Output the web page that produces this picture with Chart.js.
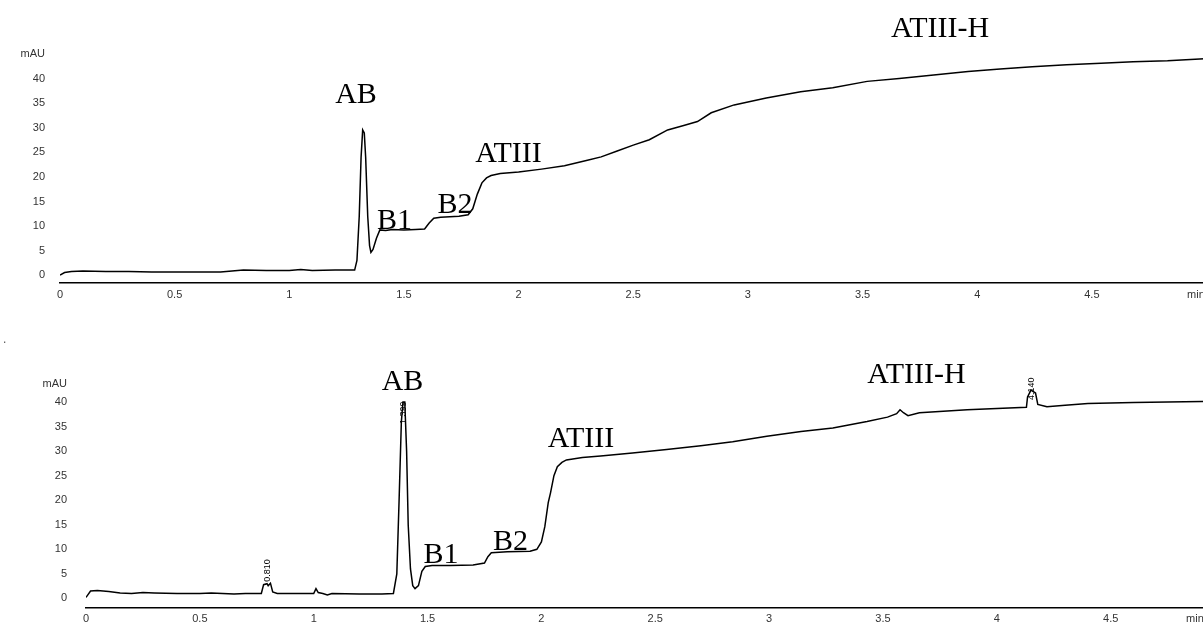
<!DOCTYPE html>
<html>
<head>
<meta charset="utf-8">
<script src="https://cdn.jsdelivr.net/npm/chart.js@4.4.1/dist/chart.umd.min.js"></script>
<style>
	html, body {
		margin: 0;
		padding: 0;
		background: #fff;
		overflow: hidden;
		width: 1203px;
		height: 628px;
	}
	canvas {
		position: absolute;
		left: 0;
	}
	#top-chart {
		top: 0;
	}
	#bottom-chart {
		top: 325px;
	}
	.dot {
		position: absolute;
		left: 3px;
		top: 332px;
		font: 12px "Liberation Sans", sans-serif;
		color: #555;
	}
</style>
</head>
<body>
<canvas id="top-chart" width="1240" height="310"></canvas>
<canvas id="bottom-chart" width="1240" height="308"></canvas>
<span class="dot">.</span>

<script>
// top run: time (min) and signal (mAU)
const topTime = [
	0.00, 0.02, 0.05, 0.10, 0.20, 0.30, 0.40, 0.50, 0.60, 0.70, 0.75, 0.80,
	0.90, 1.00, 1.05, 1.10, 1.20, 1.285, 1.295, 1.305, 1.313, 1.32, 1.327,
	1.333, 1.342, 1.35, 1.356, 1.365, 1.38, 1.395, 1.42, 1.45, 1.50, 1.55,
	1.59, 1.61, 1.63, 1.66, 1.70, 1.74, 1.78, 1.80, 1.82, 1.84, 1.86, 1.88,
	1.92, 2.00, 2.10, 2.20, 2.30, 2.36, 2.43, 2.50, 2.57, 2.65, 2.72, 2.78,
	2.84, 2.94, 3.08, 3.23, 3.37, 3.52, 3.66, 3.81, 3.96, 4.10, 4.24, 4.39,
	4.54, 4.68, 4.83, 4.99,
];
const topSignal = [
	0.0, 0.5, 0.7, 0.8, 0.7, 0.7, 0.6, 0.6, 0.6, 0.6, 0.8, 1.0,
	0.9, 0.9, 1.1, 0.9, 1.0, 1.0, 3.0, 12.0, 24.0, 29.6, 29.0,
	24.0, 12.0, 6.0, 4.6, 5.2, 7.5, 9.2, 9.1, 9.3, 9.2, 9.3,
	9.4, 10.6, 11.6, 11.8, 11.9, 12.0, 12.3, 13.5, 16.5, 18.8, 19.8, 20.3,
	20.7, 21.0, 21.6, 22.3, 23.4, 24.1, 25.3, 26.5, 27.6, 29.6, 30.5, 31.3,
	33.1, 34.7, 36.1, 37.4, 38.2, 39.5, 40.1, 40.8, 41.5, 42.0, 42.5, 42.9,
	43.2, 43.5, 43.7, 44.1,
];

// bottom run
const bottomTime = [
	0.00, 0.02, 0.05, 0.10, 0.15, 0.20, 0.25, 0.30, 0.40, 0.50, 0.55, 0.60,
	0.65, 0.70, 0.77, 0.78, 0.795, 0.80, 0.81, 0.82, 0.84, 0.90, 1.00, 1.01,
	1.02, 1.04, 1.06, 1.08, 1.20, 1.30, 1.35, 1.365, 1.375, 1.385, 1.392,
	1.40, 1.408, 1.415, 1.425, 1.435, 1.445, 1.46, 1.475, 1.49, 1.52, 1.60,
	1.70, 1.75, 1.765, 1.78, 1.85, 1.95, 1.98, 2.00, 2.015, 2.03, 2.04,
	2.055, 2.07, 2.09, 2.11, 2.18, 2.26, 2.40, 2.55, 2.70, 2.84, 2.99, 3.14,
	3.28, 3.43, 3.52, 3.56, 3.575, 3.59, 3.61, 3.66, 3.87, 4.13, 4.135,
	4.15, 4.17, 4.18, 4.22, 4.30, 4.40, 4.60, 4.90, 5.00,
];
const bottomSignal = [
	0.2, 1.5, 1.6, 1.4, 1.1, 1.0, 1.2, 1.1, 1.0, 1.0, 1.1, 1.0,
	0.9, 1.0, 1.0, 2.8, 3.0, 2.6, 3.1, 1.3, 1.0, 1.0, 1.0, 2.0,
	1.2, 1.0, 0.7, 1.0, 0.9, 0.9, 1.0, 5.0, 20.0, 36.0, 40.0,
	40.0, 30.0, 15.0, 6.0, 2.6, 2.0, 2.6, 5.5, 6.5, 6.7, 6.7,
	6.8, 7.2, 8.5, 9.3, 9.5, 9.6, 10.0, 11.5, 14.6, 19.5, 21.5,
	25.0, 26.8, 27.7, 28.2, 28.7, 29.0, 29.6, 30.3, 31.1, 31.9, 33.0, 34.0,
	34.7, 36.0, 36.9, 37.6, 38.4, 37.8, 37.2, 37.8, 38.4, 38.9, 41.0,
	42.4, 41.8, 39.5, 39.0, 39.3, 39.7, 39.9, 40.1, 40.2,
];

const xTickValues = [0, 0.5, 1, 1.5, 2, 2.5, 3, 3.5, 4, 4.5];
const yTickValues = [0, 5, 10, 15, 20, 25, 30, 35, 40];

// peak names: [name, time, signal] where the text sits
const topPeakNames = ["AB", "B1", "B2", "ATIII", "ATIII-H"];
const topPeakTime = [1.291, 1.459, 1.723, 1.956, 3.838];
const topPeakSignal = [35.1, 9.4, 12.65, 23.06, 48.6];

const bottomPeakNames = ["AB", "B1", "B2", "ATIII", "ATIII-H"];
const bottomPeakTime = [1.390, 1.559, 1.864, 2.174, 3.647];
const bottomPeakSignal = [42.4, 7.3, 9.95, 30.9, 43.9];

// retention time marks written upright beside the peaks
const bottomRtLabels = ["0.810", "1.399", "4.140"];
const bottomRtTime = [0.797, 1.396, 4.153];
const bottomRtSignal = [3.4, 35.5, 40.4];

const tickFont = { family: "'Liberation Sans', Arial, sans-serif", size: 11 };

function makeChart(id, opts) {
	const ctx = document.getElementById(id).getContext("2d");
	const points = opts.time.map((t, i) => ({ x: t, y: opts.signal[i] }));

	const peakLabels = {
		id: "peakLabels",
		afterDraw(chart) {
			const c = chart.ctx;
			const xs = chart.scales.x;
			const ys = chart.scales.y;
			c.save();
			c.fillStyle = "#000";
			c.font = "30px 'Liberation Serif', 'Times New Roman', serif";
			c.textAlign = "center";
			c.textBaseline = "alphabetic";
			opts.names.forEach((name, i) => {
				c.fillText(name, xs.getPixelForValue(opts.namesX[i]), ys.getPixelForValue(opts.namesY[i]));
			});

			if (opts.rt) {
				c.font = "9px 'Liberation Sans', Arial, sans-serif";
				c.textAlign = "left";
				c.textBaseline = "middle";
				opts.rt.labels.forEach((label, i) => {
					c.save();
					c.translate(xs.getPixelForValue(opts.rt.x[i]), ys.getPixelForValue(opts.rt.y[i]));
					c.rotate(-Math.PI / 2);
					c.fillText(label, 0, 0);
					c.restore();
				});
			}
			c.restore();
		},
	};

	return new Chart(ctx, {
		type: "line",
		data: {
			datasets: [
				{
					data: points,
					borderColor: "#000",
					borderWidth: 1.5,
					pointRadius: 0,
					tension: 0,
					fill: false,
				},
			],
		},
		options: {
			responsive: false,
			animation: false,
			layout: {
				padding: { top: opts.padTop, left: 0, right: 0, bottom: 0 },
			},
			plugins: {
				legend: { display: false },
				tooltip: { enabled: false },
			},
			scales: {
				x: {
					type: "linear",
					min: 0,
					max: opts.xMax,
					afterBuildTicks: (scale) => {
						scale.ticks = xTickValues.concat([opts.minPos]).map((v) => ({ value: v }));
					},
					afterFit: (scale) => {
						scale.height = opts.xHeight;
					},
					grid: { display: false, drawTicks: false },
					border: { display: true, color: "#000", width: 1.5 },
					ticks: {
						autoSkip: false,
						maxRotation: 0,
						padding: 5,
						color: "#333",
						font: tickFont,
						callback: (value) => (value === opts.minPos ? "min" : String(value)),
					},
				},
				y: {
					min: opts.yMin,
					max: opts.yMax,
					afterBuildTicks: (scale) => {
						scale.ticks = yTickValues.concat([opts.mauPos]).map((v) => ({ value: v }));
					},
					afterFit: (scale) => {
						scale.width = opts.yWidth;
					},
					grid: { display: false, drawTicks: false },
					border: { display: false },
					ticks: {
						autoSkip: false,
						padding: opts.yPad,
						color: "#333",
						font: tickFont,
						callback: (value) => (value === opts.mauPos ? "mAU" : String(value)),
					},
				},
			},
		},
		plugins: [peakLabels],
	});
}

makeChart("top-chart", {
	time: topTime,
	signal: topSignal,
	names: topPeakNames,
	namesX: topPeakTime,
	namesY: topPeakSignal,
	padTop: 50,
	xHeight: 27,
	xMax: 5.146,
	minPos: 4.954,
	yMin: -1.63,
	yMax: 45.9,
	mauPos: 45.1,
	yWidth: 60,
	yPad: 15,
});

makeChart("bottom-chart", {
	time: bottomTime,
	signal: bottomSignal,
	names: bottomPeakNames,
	namesX: bottomPeakTime,
	namesY: bottomPeakSignal,
	rt: { labels: bottomRtLabels, x: bottomRtTime, y: bottomRtSignal },
	padTop: 53,
	xHeight: 20,
	xMax: 5.068,
	minPos: 4.87,
	yMin: -1.83,
	yMax: 44.87,
	mauPos: 43.65,
	yWidth: 86,
	yPad: 19,
});
</script>
</body>
</html>
